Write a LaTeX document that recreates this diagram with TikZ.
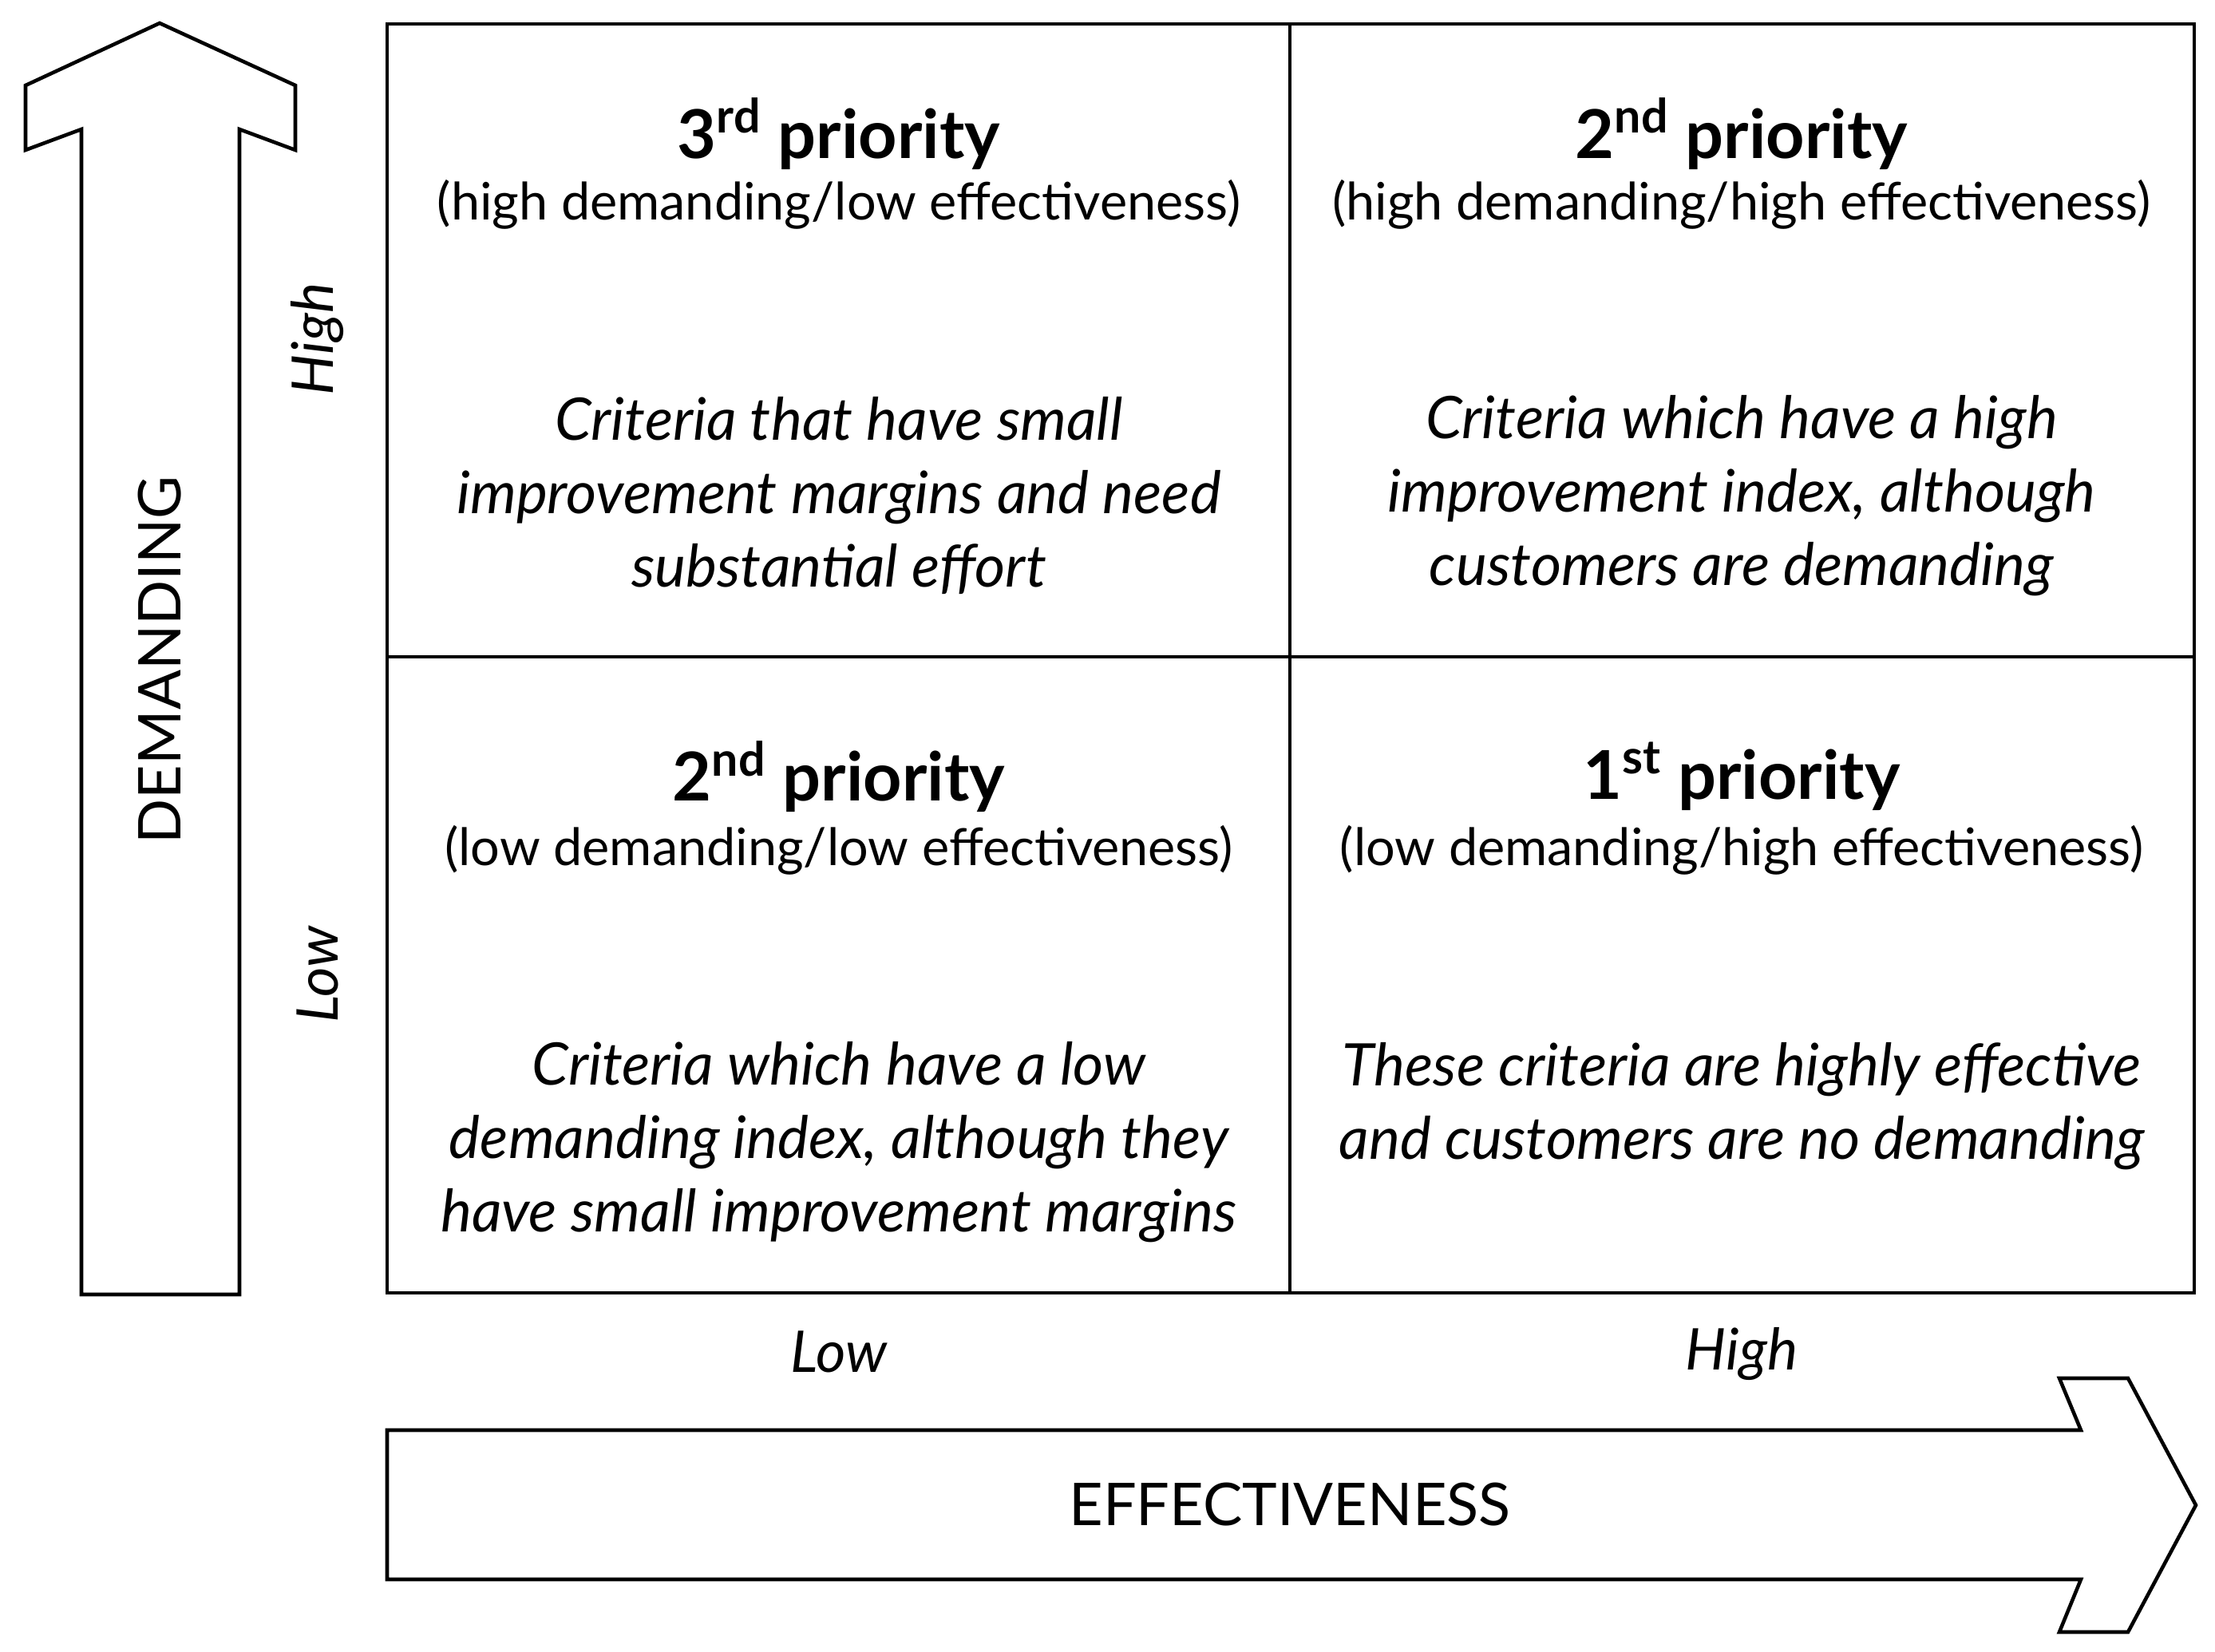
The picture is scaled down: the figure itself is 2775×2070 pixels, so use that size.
\documentclass[tikz,border=0pt]{standalone}
\usepackage{fontspec}
\setmainfont{Lato}
\begin{document}
\begin{tikzpicture}[x=0.01cm,y=-0.01cm,
  line/.style={draw=black,line width=1.3pt,line join=miter},
  ttl/.style={font=\fontsize{24}{28}\selectfont\bfseries,anchor=center},
  sub/.style={font=\fontsize{18.4}{22}\selectfont,anchor=center},
  desc/.style={font=\fontsize{20.9}{26.1}\selectfont\itshape,align=center,anchor=center},
  axl/.style={font=\fontsize{20.5}{24}\selectfont\itshape,anchor=center},
  axt/.style={font=\fontsize{21}{24}\selectfont,anchor=center}]
\useasboundingbox (0,0) rectangle (2775,2070);
% up arrow
\draw[line] (102,1622) -- (102,162) -- (32,188) -- (32,107) -- (200,29)
  -- (370,107) -- (370,188) -- (300,162) -- (300,1622) -- cycle;
% right arrow
\draw[line] (485,1792) -- (2607,1792) -- (2580,1727) -- (2666,1727) -- (2751,1886)
  -- (2666,2045) -- (2580,2045) -- (2607,1979) -- (485,1979) -- cycle;
% grid
\draw[line] (485,30) rectangle (2749,1620);
\draw[line] (1616,30) -- (1616,1620);
\draw[line] (485,823) -- (2749,823);
% quadrant texts
\node[ttl] (t1) at (1051,168) {3\textsuperscript{rd} priority};
\node[sub] (s1) at (1051,256) {(high demanding/low effectiveness)};
\node[desc] (d1) at (1051,621) {Criteria that have small\\improvement margins and need\\substantial effort};
\node[ttl] (t2) at (2182,168) {2\textsuperscript{nd} priority};
\node[sub] (s2) at (2182,256) {(high demanding/high effectiveness)};
\node[desc] (d2) at (2182,621) {Criteria which have a high\\improvement index, although\\customers are demanding};
\node[ttl] (t3) at (1051,973) {2\textsuperscript{nd} priority};
\node[sub] (s3) at (1051,1065) {(low demanding/low effectiveness)};
\node[desc] (d3) at (1051,1431) {Criteria which have a low\\demanding index, although they\\have small improvement margins};
\node[ttl] (t4) at (2182,973) {1\textsuperscript{st} priority};
\node[sub] (s4) at (2182,1065) {(low demanding/high effectiveness)};
\node[desc] (d4) at (2182,1386) {These criteria are highly effective\\and customers are no demanding};
% axis labels
\node[axl,rotate=90] (yh) at (398,425) {High};
\node[axl,rotate=90] (yl) at (398,1221) {Low};
\node[axt,rotate=90] (yt) at (200,827) {DEMANDING};
\node[axl] (xl) at (1051,1694) {Low};
\node[axl] (xh) at (2182,1697) {High};
\node[axt] (xt) at (1616,1885) {EFFECTIVENESS};
\end{tikzpicture}
\end{document}
